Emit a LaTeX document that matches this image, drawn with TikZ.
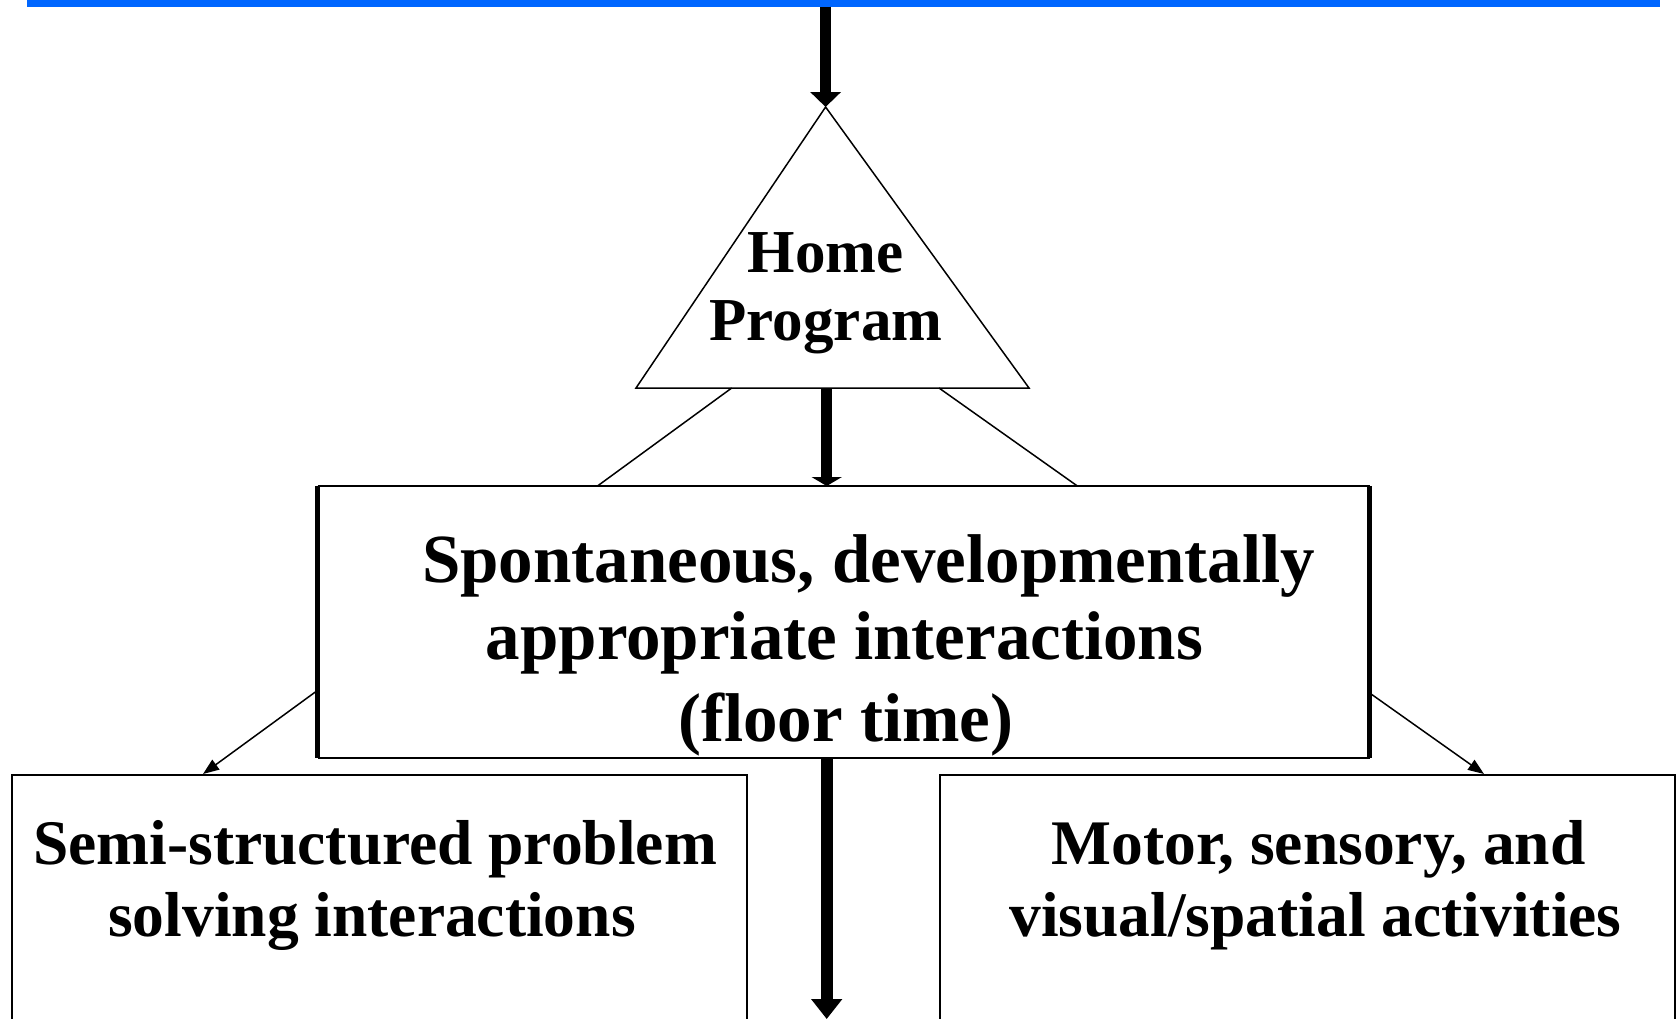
\documentclass[tikz,border=0pt]{standalone}
\usepackage{fontspec}
\setmainfont{Liberation Serif}
\usetikzlibrary{arrows.meta}
\definecolor{barblue}{HTML}{0066FF}
\begin{document}
\begin{tikzpicture}[x=0.5pt,y=-0.5pt,
  thinline/.style={line width=0.75pt, draw=black},
  boxline/.style={line width=1pt, draw=black},
  fatarrow/.style={line width=5.5pt, -{Triangle[width=15pt,length=#1]}},
  fatarrow/.default=7.5pt,
  slimarrow/.style={line width=0.75pt, -{Triangle[width=6pt,length=8pt]}},
  homefont/.style={font=\bfseries\fontsize{30.5pt}{34pt}\selectfont, inner sep=0pt, anchor=base},
  midfont/.style={font=\bfseries\fontsize{34.5pt}{38pt}\selectfont, inner sep=0pt, anchor=base},
  lowfont/.style={font=\bfseries\fontsize{31.75pt}{36pt}\selectfont, inner sep=0pt, anchor=base},
]
\clip (0,0) rectangle (1679,1018);
\fill[white] (0,0) rectangle (1679,1018);

% blue bar along the top edge
\fill[barblue] (27,0) rectangle (1660,6.5);
\coordinate (barmid) at (825.6,6.5);

% triangle with its text
\coordinate (apex) at (825.6,107);
\coordinate (baseL) at (636,388);
\coordinate (baseR) at (1029,388);
\draw[thinline, line join=miter] (apex) -- (baseL) -- (baseR) -- cycle;
\node[homefont] (home1) at (825.8,272) {Home};
\node[homefont] (home2) at (826,340.5) {Program};
\coordinate (triL) at (731.7,388);
\coordinate (triM) at (826.7,388.5);
\coordinate (triR) at (939,388);

% bottom boxes
\node[boxline, minimum width=735.3*0.5pt, minimum height=300*0.5pt, inner sep=0pt, anchor=north west] (semi) at (10.7,774) {};
\node[boxline, minimum width=734.6*0.5pt, minimum height=300*0.5pt, inner sep=0pt, anchor=north west] (motor) at (939,774) {};
\node[lowfont] (semi1) at (375,864) {Semi-structured problem};
\node[lowfont] (semi2) at (372,936) {solving interactions};
\node[lowfont] (motor1) at (1318.5,864) {Motor, sensory, and};
\node[lowfont] (motor2) at (1315.5,936) {visual/spatial activities};
\coordinate (semitop) at (203,774);
\coordinate (motortop) at (1484,774);

% diagonal connectors, partly hidden behind the middle box
\draw[slimarrow] (triL) -- (semitop);
\draw[slimarrow] (triR) -- (motortop);

% middle box
\node[fill=white, draw=none, minimum width=1051.5*0.5pt, minimum height=271*0.5pt, inner sep=0pt, anchor=north west] (floor) at (317.5,486) {};
\draw[thinline] (floor.north west) -- (floor.north east);
\draw[thinline] (floor.south west) -- (floor.south east);
\draw[line width=2.5pt] (floor.north west) -- (floor.south west);
\draw[line width=2.5pt] (floor.north east) -- (floor.south east);
\node[midfont] (floor1) at (868.7,582.5) {Spontaneous, developmentally};
\node[midfont] (floor2) at (844.5,659.5) {appropriate interactions};
\node[midfont] (floor3) at (845.8,741) {(floor time)};

% thick vertical arrows
\coordinate (floorin) at (826.7,486);
\coordinate (floorout) at (826.7,757);
\coordinate (downend) at (826.7,1019);
\draw[fatarrow=7.5pt] (barmid) -- (apex);
\draw[fatarrow=4.5pt] (triM) -- (floorin);
\draw[line width=6pt, -{Triangle[width=15pt,length=10pt]}] (floorout) -- (downend);
\end{tikzpicture}
\end{document}
